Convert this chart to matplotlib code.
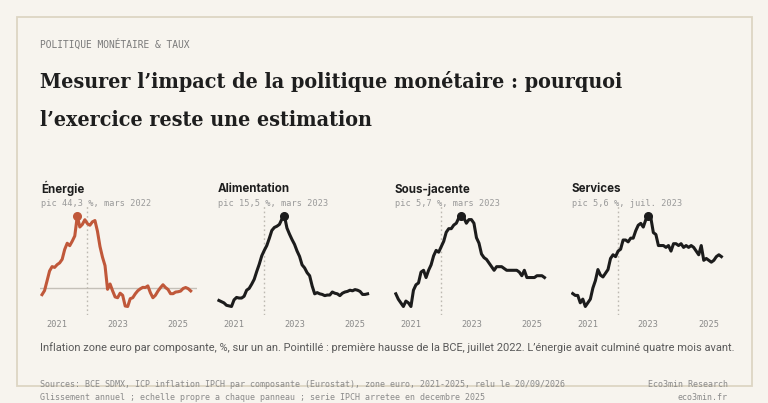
import numpy as np
import matplotlib
matplotlib.use("Agg")
import matplotlib.pyplot as plt
from matplotlib.patches import Rectangle

# Monthly HICP y/y, Jan 2021 -> Dec 2025
energie = [-4.2, -1.7, 4.3, 10.4, 13.1, 12.6, 14.3, 15.4, 17.6, 23.7, 27.5, 26.0,
           28.8, 32.0, 44.3, 37.5, 39.1, 42.0, 39.6, 38.6, 40.7, 41.5, 34.9, 25.5,
           18.9, 13.7, -0.9, 2.4, -1.8, -5.6, -6.1, -3.3, -4.6, -11.2, -11.5, -6.7,
           -6.1, -3.7, -1.8, -0.6, 0.3, 0.2, 1.2, -3.0, -6.1, -4.6, -2.0, 0.1,
           1.9, 0.2, -1.0, -3.6, -3.6, -2.6, -2.4, -2.0, -0.4, 0.2, -0.5, -1.9]
alimentation = [1.5, 1.3, 1.1, 0.7, 0.6, 0.5, 1.6, 2.0, 1.9, 1.9, 2.2, 3.2,
                3.5, 4.2, 5.0, 6.3, 7.5, 8.9, 9.8, 10.6, 11.8, 13.1, 13.6, 13.8,
                14.1, 15.0, 15.5, 13.5, 12.5, 11.6, 10.8, 9.7, 8.8, 7.4, 6.9, 6.1,
                5.6, 3.9, 2.6, 2.8, 2.6, 2.5, 2.3, 2.4, 2.4, 2.9, 2.7, 2.6,
                2.3, 2.7, 2.9, 3.0, 3.2, 3.1, 3.3, 3.2, 3.0, 2.5, 2.5, 2.6]
sous_jacente = [1.4, 1.1, 0.9, 0.7, 1.0, 0.9, 0.7, 1.6, 1.9, 2.0, 2.6, 2.7,
                2.3, 2.7, 3.0, 3.5, 3.8, 3.7, 4.0, 4.3, 4.8, 5.0, 5.0, 5.2,
                5.3, 5.6, 5.7, 5.6, 5.3, 5.5, 5.5, 5.3, 4.5, 4.2, 3.6, 3.4,
                3.3, 3.1, 2.9, 2.7, 2.9, 2.9, 2.9, 2.8, 2.7, 2.7, 2.7, 2.7,
                2.7, 2.6, 2.4, 2.7, 2.3, 2.3, 2.3, 2.3, 2.4, 2.4, 2.4, 2.3]
services = [1.4, 1.3, 1.3, 0.9, 1.1, 0.7, 0.9, 1.1, 1.7, 2.1, 2.7, 2.4,
            2.3, 2.5, 2.7, 3.3, 3.5, 3.4, 3.7, 3.8, 4.3, 4.3, 4.2, 4.4,
            4.4, 4.8, 5.1, 5.2, 5.0, 5.4, 5.6, 5.5, 4.7, 4.6, 4.0, 4.0,
            4.0, 3.9, 4.0, 3.7, 4.1, 4.1, 4.0, 4.1, 3.9, 4.0, 3.9, 4.0,
            3.9, 3.7, 3.5, 4.0, 3.2, 3.3, 3.2, 3.1, 3.2, 3.4, 3.5, 3.4]

panel_titles = ["Énergie", "Alimentation", "Sous-jacente", "Services"]
panel_notes = ["pic 44,3 %, mars 2022", "pic 15,5 %, mars 2023",
               "pic 5,7 %, mars 2023", "pic 5,6 %, juil. 2023"]
series = [energie, alimentation, sous_jacente, services]
colors = ["#c0583a", "#1c1c1c", "#1c1c1c", "#1c1c1c"]

tick_pos = [6, 30, 54]          # mid-year positions in months from Jan 2021
tick_labels = ["2021", "2023", "2025"]
bce_hike = 18                   # juillet 2022

W, H = 768, 403
BG = "#f7f4ee"
MONO = "DejaVu Sans Mono"

fig = plt.figure(figsize=(W / 100, H / 100), dpi=100, facecolor=BG)
renderer = fig.canvas.get_renderer()


def fx(x):
    return x / W


def fy(y):
    return 1 - y / H


def fit_text(x, y, s, width_px, **kw):
    # draw text and rescale it so that it spans width_px pixels
    t = fig.text(fx(x), fy(y), s, **kw)
    w = t.get_window_extent(renderer).width
    t.set_fontsize(t.get_fontsize() * width_px / w)
    return t


# card
fig.patches.append(Rectangle((fx(16.5), fy(385.5)), fx(752 - 16.5), (385.5 - 16.5) / H,
                             transform=fig.transFigure, facecolor=BG,
                             edgecolor="#ddd5c3", lw=1.3, zorder=-5))

fig.text(fx(40), fy(47.7), "POLITIQUE MONÉTAIRE & TAUX", family=MONO,
         fontsize=6.9, color="#7a7a7a", va="baseline")

t1 = fit_text(40, 87.5, "Mesurer l’impact de la politique monétaire : pourquoi", 586,
              family="DejaVu Serif", stretch="condensed", weight="bold", fontsize=16,
              color="#1e1e1e", va="baseline")
fig.text(fx(40), fy(126), "l’exercice reste une estimation", family="DejaVu Serif",
         stretch="condensed", weight="bold", fontsize=t1.get_fontsize(),
         color="#1e1e1e", va="baseline")

month = np.arange(len(energie))
step = 176.9
for i, (vals, title, note, col) in enumerate(zip(series, panel_titles, panel_notes, colors)):
    vals = np.array(vals)
    left_px = 42 + step * i - 2
    ax = fig.add_axes([fx(left_px), fy(315), 157 / W, 110 / H])
    ax.set_facecolor("none")
    lo, hi = vals.min(), vals.max()
    rng = hi - lo
    ax.set_ylim(lo - 0.094 * rng, hi + 0.1215 * rng)
    ax.set_xlim(-0.8, 61.5)
    if lo < 0 < hi:
        ax.axhline(0, color="#c4c0b8", lw=1, zorder=1)
    ax.axvline(bce_hike, color="#bdb9b1", lw=1, ls=(0, (1.2, 2)), zorder=1)
    ax.plot(month, vals, color=col, lw=2.2, solid_joinstyle="round", zorder=3)
    k = int(vals.argmax())
    ax.plot(month[k], vals[k], "o", color=col, ms=5.5, zorder=4)
    for s in ax.spines.values():
        s.set_visible(False)
    ax.set_yticks([])
    ax.set_xticks(tick_pos)
    ax.set_xticklabels(tick_labels, family=MONO, fontsize=6.2, color="#8a8a8a")
    ax.tick_params(axis="x", length=0, pad=3.5)

    fig.text(fx(left_px + 1), fy(192.5), title, family="Inter", weight="bold",
             fontsize=8.3, color="#1e1e1e", va="baseline")
    fig.text(fx(left_px + 1), fy(206), note, family=MONO, fontsize=6.2,
             color="#9a9a9a", va="baseline")

fit_text(40, 351, "Inflation zone euro par composante, %, sur un an. Pointillé : première "
         "hausse de la BCE, juillet 2022. L’énergie avait culminé quatre mois avant.", 695,
         family="Roboto", fontsize=8, color="#5a5a5a", va="baseline")

src = fit_text(40, 387, "Sources: BCE SDMX, ICP inflation IPCH par composante (Eurostat), "
               "zone euro, 2021-2025, relu le 20/09/2026", 537,
               family=MONO, fontsize=6.2, color="#8a8a8a", va="baseline")
fs = src.get_fontsize()
fig.text(fx(40), fy(400), "Glissement annuel ; echelle propre a chaque panneau ; "
         "serie IPCH arretee en decembre 2025", family=MONO, fontsize=fs,
         color="#8a8a8a", va="baseline")
fig.text(fx(728), fy(387), "Eco3min Research", family=MONO, fontsize=fs,
         color="#8a8a8a", va="baseline", ha="right")
fig.text(fx(728), fy(400), "eco3min.fr", family=MONO, fontsize=fs,
         color="#8a8a8a", va="baseline", ha="right")

fig.savefig("out.png", dpi=100, facecolor=BG)
